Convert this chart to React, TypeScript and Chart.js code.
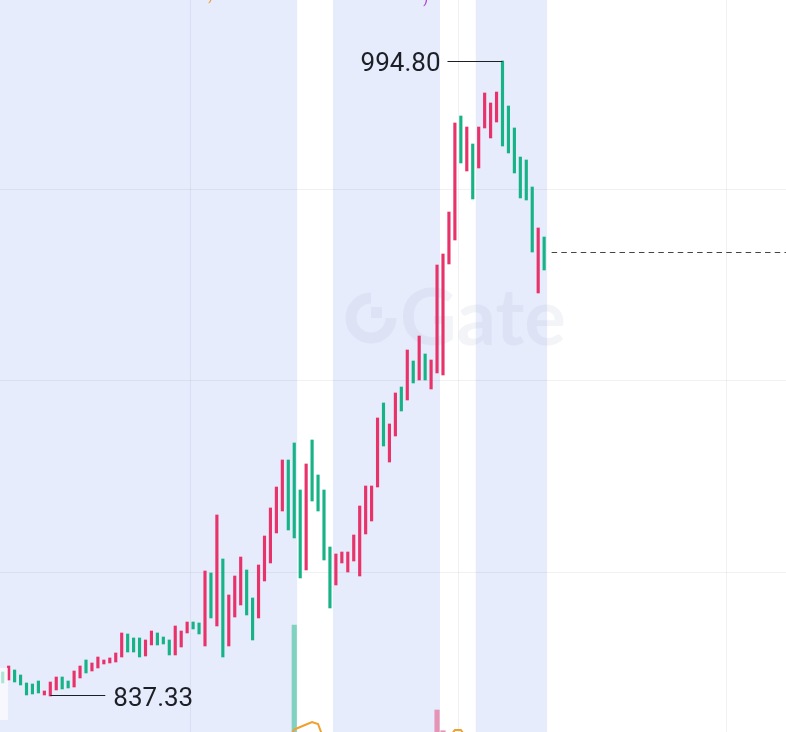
import React, { useEffect, useRef } from "react";
import { Chart, registerables } from "chart.js";

Chart.register(...registerables);

// ---- data (prices) ----
const opens = [
  843.27, 841.29, 843.77, 842.53, 840.55, 840.3, 841.04, 837.57, 837.33, 838.81,
  842.03, 841.04, 839.55, 841.79, 846.25, 843.52, 844.27, 845.26, 845.51, 845.75,
  846.99, 852.7, 851.71, 851.71, 847.24, 849.97, 852.95, 851.95, 851.21, 847.49,
  849.47, 852.95, 855.67, 855.43, 849.72, 867.83, 854.68, 871.3, 849.72, 856.91,
  859.89, 868.57, 861.63, 856.67, 865.84, 870.31, 877.75, 883.2, 895.85, 900.07,
  888.41, 868.57, 900.81, 892.13, 888.41, 874.27, 864.85, 870.31, 868.07, 870.8,
  867.08, 877.5, 880.72, 889.15, 909.99, 895.35, 901.8, 913.95, 910.73, 920.4,
  915.69, 922.14, 913.46, 917.43, 916.93, 944.46, 950.41, 981.16, 967.52, 974.22,
  968.27, 978.19, 975.71, 979.67, 994.8, 983.64, 978.19, 970.99, 970.25, 963.55,
  937.27, 951.15,
];
const closes = [
  840.55, 844.76, 840.79, 840.05, 837.57, 837.82, 838.07, 838.56, 840.79, 842.03,
  839.06, 839.31, 843.52, 844.76, 843.03, 845.51, 846.99, 846.25, 846.75, 847.99,
  852.95, 848.23, 848.23, 846.99, 851.21, 853.44, 849.97, 850.22, 847.49, 854.68,
  853.44, 855.67, 853.94, 852.7, 868.32, 856.67, 882.21, 846.99, 862.37, 867.08,
  871.79, 857.41, 851.21, 869.81, 877.0, 883.95, 889.15, 895.85, 878.49, 876.51,
  866.59, 894.86, 885.68, 883.2, 871.05, 859.15, 872.54, 873.03, 873.03, 877.25,
  884.44, 889.4, 889.4, 906.27, 899.32, 904.78, 912.47, 908.0, 923.13, 914.95,
  926.6, 915.69, 920.65, 944.21, 946.94, 957.35, 979.43, 969.51, 978.43, 960.58,
  978.43, 986.87, 984.39, 987.11, 973.72, 971.99, 967.03, 960.83, 960.33, 947.43,
  953.39, 942.97,
];
// only the volume bars / volume MA that peek into view
const volumes: (number | null)[] = opens.map(() => null);
volumes[49] = 155;
volumes[73] = 70;
volumes[74] = 49.3;
const volumeMA: (number | null)[] = opens.map(() => null);
volumeMA[48] = 40; volumeMA[49] = 50.5; volumeMA[50] = 53; volumeMA[51] = 55.5;
volumeMA[52] = 58; volumeMA[53] = 56; volumeMA[54] = 40;
volumeMA[75] = 42; volumeMA[76] = 50; volumeMA[77] = 50; volumeMA[78] = 42;

const highPrice = 994.8;
const highIndex = 84;
const lowPrice = 837.33;
const lowIndex = 8;
const lastPrice = 947.43;
const sessionBands = [
  [-0.46, 49.5],
  [55.5, 73.5],
  [79.5, 91.5],
];
const gridPrices = [868.07, 915.57, 962.98];
const gridTimes = [31.6, 76.6, 121.6];

const UP = "#e8336a";
const DOWN = "#17b386";
const UP_VOL = "#e594b6";
const DOWN_VOL = "#80d1bf";

export default function App() {
  const ref = useRef<HTMLCanvasElement | null>(null);
  useEffect(() => {
    document.body.style.margin = "0";
    const canvas = ref.current!;
    const up = opens.map((o, i) => closes[i] >= o);

    const overlay = {
      id: "overlay",
      beforeDraw(chart: any) {
        const { ctx, chartArea, scales } = chart;
        const x = scales.x;
        ctx.save();
        ctx.fillStyle = "#ffffff";
        ctx.fillRect(0, 0, chart.width, chart.height);
        ctx.fillStyle = "#e6ecfc";
        for (const [a, b] of sessionBands) {
          const xa = x.getPixelForValue(a);
          const xb = x.getPixelForValue(b);
          ctx.fillRect(xa, chartArea.top, xb - xa, chartArea.bottom - chartArea.top);
        }
        ctx.restore();
      },
      beforeDatasetsDraw(chart: any) {
        const { ctx } = chart;
        ctx.save();
        ctx.fillStyle = "rgba(160,172,196,0.13)";
        ctx.strokeStyle = "rgba(160,172,196,0.13)";
        // logo ring
        ctx.lineWidth = 11;
        ctx.beginPath();
        ctx.arc(371, 318, 20, 0, Math.PI * 1.5, false);
        ctx.stroke();
        ctx.fillRect(371, 307, 11, 11);
        ctx.font = "bold 78px Lato";
        ctx.textBaseline = "alphabetic";
        ctx.textAlign = "left";
        ctx.fillText("Gate", 400, 345);
        ctx.restore();
      },
      afterDatasetsDraw(chart: any) {
        const { ctx, chartArea, scales } = chart;
        const x = scales.x;
        const y = scales.y;
        ctx.save();
        // last price dashed line
        const lx = x.getPixelForValue(opens.length - 1) + 7.5;
        const ly = Math.round(y.getPixelForValue(lastPrice)) + 0.5;
        ctx.strokeStyle = "#444";
        ctx.lineWidth = 1;
        ctx.setLineDash([5.5, 4.2]);
        ctx.beginPath();
        ctx.moveTo(lx, ly);
        ctx.lineTo(chartArea.right, ly);
        ctx.stroke();
        ctx.setLineDash([]);

        // high label
        ctx.strokeStyle = "#1c1f26";
        ctx.fillStyle = "#1c1f26";
        ctx.font = "26px Roboto";
        const hx = x.getPixelForValue(highIndex);
        const hy = Math.round(y.getPixelForValue(highPrice)) + 0.5;
        ctx.beginPath();
        ctx.moveTo(hx - 55, hy);
        ctx.lineTo(hx, hy);
        ctx.stroke();
        ctx.textAlign = "right";
        ctx.textBaseline = "alphabetic";
        ctx.fillText(highPrice.toFixed(2), hx - 62, hy + 9.5);

        // low label
        const lwx = x.getPixelForValue(lowIndex);
        const lwy = Math.round(y.getPixelForValue(lowPrice)) - 0.5;
        ctx.beginPath();
        ctx.moveTo(lwx, lwy);
        ctx.lineTo(lwx + 55, lwy);
        ctx.stroke();
        ctx.textAlign = "left";
        ctx.fillText(lowPrice.toFixed(2), lwx + 63, lwy + 10.5);

        // cut-off legend text at the top
        ctx.font = "14px Roboto";
        ctx.textAlign = "right";
        ctx.fillStyle = "#f29b28";
        ctx.fillText("MA5", 213, -1);
        ctx.fillText(")", 213, 0);
        ctx.fillStyle = "#b03ad8";
        ctx.fillText(")", 428, 3);

        // small white panel edge bottom-left
        ctx.fillStyle = "rgba(255,255,255,0.65)";
        ctx.fillRect(0, 668, 8, 52);
        ctx.restore();
      },
    };

    const chart = new Chart(canvas, {
      type: "bar",
      data: {
        datasets: [
          {
            type: "bar",
            yAxisID: "y",
            data: opens.map((o, i) => ({ x: i, y: [o, closes[i]] })) as any,
            backgroundColor: up.map((u) => (u ? UP : DOWN)),
            barThickness: 2.5,
            grouped: false,
            borderWidth: 0,
            order: 1,
          } as any,
          {
            type: "bar",
            yAxisID: "yv",
            data: volumes.map((v, i) => ({ x: i, y: v })) as any,
            backgroundColor: up.map((u) => (u ? UP_VOL : DOWN_VOL)),
            barThickness: 4.5,
            grouped: false,
            base: 0,
            borderWidth: 0,
            order: 3,
          } as any,
          {
            type: "line",
            yAxisID: "yv",
            data: volumeMA.map((v, i) => ({ x: i, y: v })) as any,
            borderColor: "#f0a030",
            borderWidth: 2,
            pointRadius: 0,
            spanGaps: false,
            order: 2,
          } as any,
        ],
      },
      options: {
        animation: false,
        responsive: false,
        devicePixelRatio: 1,
        layout: { padding: 0 },
        plugins: { legend: { display: false }, tooltip: { enabled: false } },
        scales: {
          x: {
            type: "linear",
            offset: false,
            min: -0.454,
            max: 131.65,
            ticks: { display: false },
            grid: { offset: false, drawTicks: false, color: "rgba(60,80,120,0.08)", lineWidth: 1 },
            border: { display: false },
            afterBuildTicks: (s: any) => {
              s.ticks = gridTimes.map((v) => ({ value: v }));
            },
            afterFit: (s: any) => {
              s.height = 0;
            },
          },
          y: {
            type: "linear",
            position: "right",
            min: 828.39,
            max: 1009.93,
            ticks: { display: false },
            grid: { drawTicks: false, color: "rgba(60,80,120,0.08)", lineWidth: 1 },
            border: { display: false },
            afterBuildTicks: (s: any) => {
              s.ticks = gridPrices.map((v) => ({ value: v }));
            },
            afterFit: (s: any) => {
              s.width = 0;
            },
          },
          yv: {
            type: "linear",
            display: false,
            min: 48,
            max: 780,
          },
        },
      } as any,
      plugins: [overlay],
    });
    return () => chart.destroy();
  }, []);
  return (
    <div style={{ width: 786, height: 732 }}>
      <canvas ref={ref} width={786} height={732} style={{ display: "block" }} />
    </div>
  );
}
